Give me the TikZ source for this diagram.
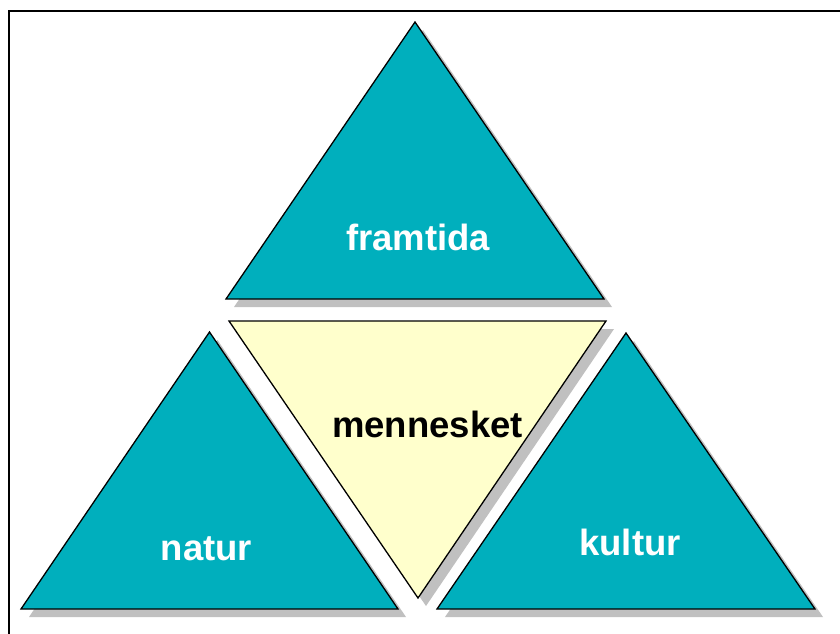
\documentclass[tikz,border=0pt]{standalone}
\usepackage{fontspec}
\setmainfont{Liberation Sans}
\definecolor{teal}{RGB}{0,175,189}
\definecolor{paleyellow}{RGB}{255,255,204}
\definecolor{shade}{RGB}{192,192,192}
\begin{document}
\begin{tikzpicture}[x=1pt,y=-1pt,
  tri/.style={draw=black,line width=1.3pt,line join=miter},
  shadowtri/.style={fill=shade,draw=none},
  lbl/.style={anchor=base,font=\fontsize{36.5}{40}\selectfont\bfseries,inner sep=0pt}]
\useasboundingbox (0,0) rectangle (840,634);
\fill[white] (0,0) rectangle (840,634);
\draw[line width=2pt] (9,640) -- (9,11) -- (845,11);
% shadows
\begin{scope}[shift={(8,8)}]
\fill[shadowtri] (415,22) -- (604,299) -- (226,299) -- cycle;
\fill[shadowtri] (229,321) -- (606,321) -- (418,598) -- cycle;
\fill[shadowtri] (209.5,332) -- (398,609) -- (21,609) -- cycle;
\fill[shadowtri] (626,333) -- (815,609) -- (437,609) -- cycle;
\end{scope}
% triangles
\draw[tri,fill=teal] (415,22) -- (604,299) -- (226,299) -- cycle;
\draw[tri,fill=paleyellow] (229,321) -- (606,321) -- (418,598) -- cycle;
\draw[tri,fill=teal] (209.5,332) -- (398,609) -- (21,609) -- cycle;
\draw[tri,fill=teal] (626,333) -- (815,609) -- (437,609) -- cycle;
% labels
\node[lbl,text=white] (framtida) at (418,250) {framtida};
\node[lbl,text=black] (mennesket) at (427.5,437) {mennesket};
\node[lbl,text=white] (natur) at (206.5,560) {natur};
\node[lbl,text=white] (kultur) at (630,555) {kultur};
\end{tikzpicture}
\end{document}
